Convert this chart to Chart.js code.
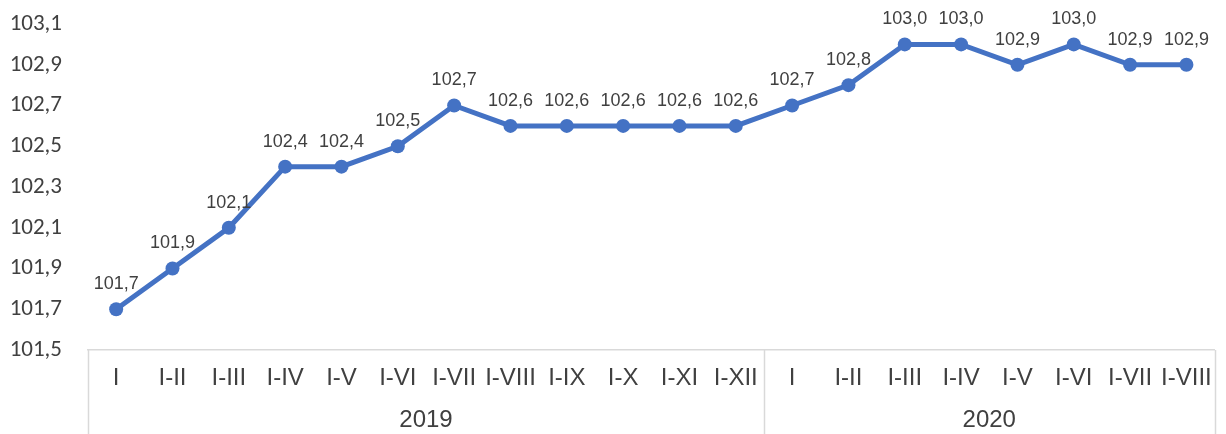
<!DOCTYPE html>
<html>
<head>
<meta charset="utf-8">
<script src="https://cdn.jsdelivr.net/npm/chart.js@4.4.1/dist/chart.umd.min.js"></script>
<style>
  html, body { margin: 0; padding: 0; background: #fff; }
  #wrap { width: 1226px; height: 434px; }
</style>
</head>
<body>
<div id="wrap"><canvas id="index-chart" width="1226" height="434"></canvas></div>
<script>
const months = ["I", "I-II", "I-III", "I-IV", "I-V", "I-VI", "I-VII", "I-VIII", "I-IX", "I-X", "I-XI", "I-XII",
                "I", "I-II", "I-III", "I-IV", "I-V", "I-VI", "I-VII", "I-VIII"];
const values = [101.7, 101.9, 102.1, 102.4, 102.4, 102.5, 102.7, 102.6, 102.6, 102.6, 102.6, 102.6,
                102.7, 102.8, 103.0, 103.0, 102.9, 103.0, 102.9, 102.9];
const years = ["2019", "2020"];
const yearCounts = [12, 8];

const blue = "#4472C4";
const textColor = "#404040";
const boxColor = "#d9d9d9";

function fmt(v) {
    return v.toFixed(1).replace(".", ",");
}

// value labels above the points
const valueLabels = {
    id: "valueLabels",
    afterDatasetsDraw(chart) {
        const ctx = chart.ctx;
        const meta = chart.getDatasetMeta(0);
        ctx.save();
        ctx.font = "18px 'Liberation Sans', Arial, sans-serif";
        ctx.fillStyle = textColor;
        ctx.textAlign = "center";
        ctx.textBaseline = "middle";
        meta.data.forEach((pt, i) => {
            ctx.fillText(fmt(values[i]), pt.x, pt.y - 25);
        });
        ctx.restore();
    }
};

// year row and the box lines under the axis
const yearBox = {
    id: "yearBox",
    afterDraw(chart) {
        const ctx = chart.ctx;
        const x = chart.scales.x;
        const half = (x.getPixelForValue(1) - x.getPixelForValue(0)) / 2;
        const top = x.top;
        const bottom = chart.height;
        ctx.save();
        ctx.strokeStyle = boxColor;
        ctx.lineWidth = 1.5;
        ctx.font = "24px 'Liberation Sans Narrow', 'Arial Narrow', 'Liberation Sans', sans-serif";
        ctx.fillStyle = textColor;
        ctx.textAlign = "center";
        ctx.textBaseline = "middle";
        let start = 0;
        const edges = [x.getPixelForValue(0) - half];
        years.forEach((yr, k) => {
            const end = start + yearCounts[k] - 1;
            const l = x.getPixelForValue(start) - half;
            const r = x.getPixelForValue(end) + half;
            edges.push(r);
            ctx.fillText(yr, (l + r) / 2, 420);
            start = end + 1;
        });
        edges.forEach(e => {
            const px = Math.round(e) + 0.5;
            ctx.beginPath();
            ctx.moveTo(px, top);
            ctx.lineTo(px, bottom);
            ctx.stroke();
        });
        ctx.restore();
    }
};

new Chart(document.getElementById("index-chart").getContext("2d"), {
    type: "line",
    data: {
        labels: months,
        datasets: [{
            data: values,
            borderColor: blue,
            backgroundColor: blue,
            borderWidth: 5,
            pointRadius: 7,
            pointHoverRadius: 7,
            pointBackgroundColor: blue,
            pointBorderWidth: 0,
            tension: 0
        }]
    },
    options: {
        responsive: false,
        animation: false,
        layout: { autoPadding: false, padding: { top: 24, right: 10, bottom: 0, left: 0 } },
        plugins: {
            legend: { display: false },
            tooltip: { enabled: false }
        },
        scales: {
            x: {
                offset: true,
                grid: { display: false, drawTicks: false },
                border: { display: true, color: boxColor, width: 1.5 },
                ticks: {
                    color: textColor,
                    font: { family: "'Liberation Sans Narrow', 'Arial Narrow', 'Liberation Sans', sans-serif", size: 24 },
                    padding: 14,
                    maxRotation: 0,
                    autoSkip: false
                },
                afterFit(scale) { scale.height = 84; }
            },
            y: {
                min: 101.5,
                max: 103.1,
                grid: { display: false, drawTicks: false },
                border: { display: false },
                ticks: {
                    stepSize: 0.2,
                    color: textColor,
                    font: { family: "Carlito, Lato, sans-serif", size: 23 },
                    padding: 26,
                    callback: (v) => fmt(v)
                },
                afterFit(scale) {
                    scale.width = 88;
                    scale.paddingTop = 0;
                    scale.paddingBottom = 0;
                }
            }
        }
    },
    plugins: [valueLabels, yearBox]
});
</script>
</body>
</html>
